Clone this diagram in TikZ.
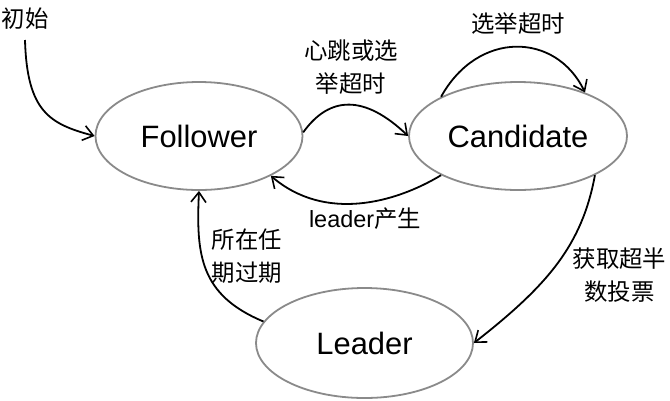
\documentclass[tikz,border=0pt]{standalone}
\usepackage{fontspec}
\setmainfont{Liberation Sans}
\newfontfamily\cjk{Noto Sans CJK SC}
\usetikzlibrary{shapes.geometric,arrows.meta}
\definecolor{ellgray}{HTML}{8A8A8A}
\begin{document}
\begin{tikzpicture}[x=1bp,y=-1bp,
  state/.style={ellipse, draw=ellgray, line width=1.8bp, inner sep=0pt, font=\fontsize{31}{36}\selectfont},
  conn/.style={line width=1.8bp, -{Straight Barb[length=10bp,width=15bp,line width=1.6bp]}},
  lbl/.style={font=\cjk\fontsize{23.5}{33}\selectfont, align=center, inner sep=0pt}]
\useasboundingbox (0,0) rectangle (670,400);
\node[state, minimum width=207bp, minimum height=108bp] (F) at (199,136) {Follower};
\node[state, minimum width=218bp, minimum height=108bp] (C) at (518,136) {Candidate};
\node[state, minimum width=217bp, minimum height=110bp] (L) at (364.5,343) {Leader};
\node[lbl] (init) at (25,19) {初始};
\node[lbl] (hb) at (351,67) {心跳或选\\举超时};
\node[lbl] (to) at (518,24) {选举超时};
\node[lbl] (lp) at (365,219) {{\rmfamily leader}产生};
\node[lbl] (term) at (247,256) {所在任\\期过期};
\node[lbl] (vote) at (619.5,275) {获取超半\\数投票};
\coordinate (s) at (25,40);
\draw[conn] (s) .. controls (27,112) and (50,124) .. (F.west);
\draw[conn] (F.2) .. controls (330,95) and (365,95) .. (C.west);
\draw[conn] (C.153) .. controls (478,30) and (556,32) .. (C.33);
\draw[conn] (C.207) .. controls (395,203) and (325,222) .. (F.-29);
\draw[conn] (C.-27) .. controls (582,245) and (548,285) .. (L.east);
\draw[conn] (L.168) .. controls (200,295) and (196,255) .. (F.south);
\end{tikzpicture}
\end{document}
